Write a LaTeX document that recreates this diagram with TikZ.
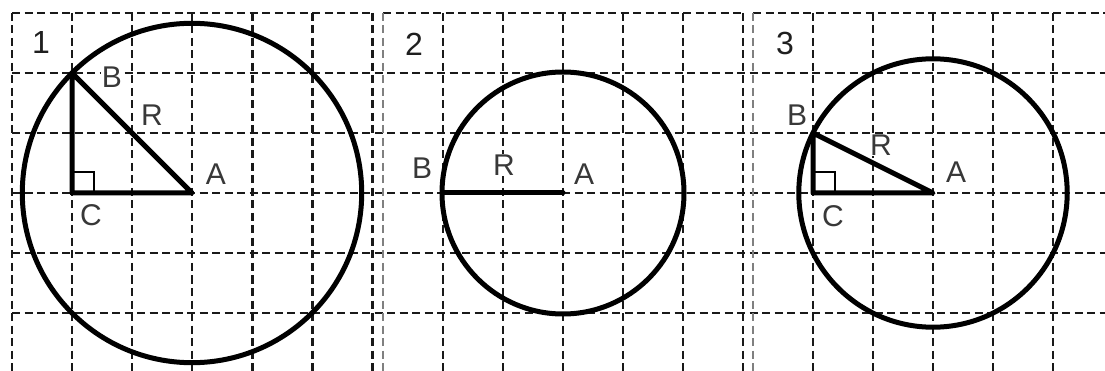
\documentclass[tikz,border=0pt]{standalone}
\usepackage{fontspec}
\setmainfont{Liberation Sans}
\begin{document}
\begin{tikzpicture}[x=1pt,y=-1pt,
  grid/.style={draw=black!90,line width=2.3pt,dash pattern=on 8pt off 4.5pt},
  gridlight/.style={draw=black!50,line width=2.3pt,dash pattern=on 8pt off 4.5pt},
  thick line/.style={draw=black,line width=5pt,line cap=round,line join=round},
  ra/.style={draw=black,line width=2pt},
  lbl/.style={inner sep=1pt,fill=white,text=black!78,font=\fontsize{30}{32}\selectfont},
  num/.style={inner sep=0pt,text=black!88,font=\fontsize{32}{34}\selectfont}]
\useasboundingbox (0,0) rectangle (1105,371);
\fill[white] (0,0) rectangle (1105,371);
% horizontal grid lines
\draw[grid] (12,13) -- (373,13);
\draw[grid] (383,13) -- (743,13);
\draw[grid] (753,13) -- (1105,13);
\foreach \y in {73,133,193,253,313}
  \draw[grid] (12,\y) -- (1105,\y);
% vertical grid lines
\foreach \i in {0,...,6}
  \draw[grid] ({12+60.1*\i},13) -- ({12+60.1*\i},371);
\draw[gridlight] (383,13) -- (383,371);
\foreach \i in {1,...,6}
  \draw[grid] ({383+60*\i},13) -- ({383+60*\i},371);
\draw[gridlight] (753,13) -- (753,371);
\foreach \i in {1,...,5}
  \draw[grid] ({753+60*\i},13) -- ({753+60*\i},371);
% panel 1
\coordinate (A1) at (192,193);
\coordinate (B1) at (72,73);
\coordinate (C1) at (72,193);
\draw[thick line] (A1) circle[radius=169.7];
\draw[ra] (C1) ++(0,-21) -- ++(22,0) -- ++(0,21);
\draw[thick line] (B1) -- (C1) -- (A1) -- cycle;
\node[num] (n1) at (41,42) {1};
\node[lbl] (lB1) at (112,77) {B};
\node[lbl] (lR1) at (152,115) {R};
\node[lbl] (lA1) at (216,174) {A};
\node[lbl] (lC1) at (91,215) {C};
% panel 2
\coordinate (A2) at (563,193);
\coordinate (B2) at (443,193);
\draw[thick line] (A2) circle[radius=121];
\draw[thick line] (B2) -- (A2);
\node[num] (n2) at (414,44) {2};
\node[lbl] (lB2) at (422,168) {B};
\node[lbl] (lR2) at (504,165) {R};
\node[lbl] (lA2) at (584,174) {A};
% panel 3
\coordinate (A3) at (933,193);
\coordinate (B3) at (813,133);
\coordinate (C3) at (813,193);
\draw[thick line] (A3) circle[radius=134.2];
\draw[ra] (C3) ++(0,-21) -- ++(22,0) -- ++(0,21);
\draw[thick line] (B3) -- (C3) -- (A3) -- cycle;
\node[num] (n3) at (785,43) {3};
\node[lbl] (lB3) at (797,115) {B};
\node[lbl] (lR3) at (881,145) {R};
\node[lbl] (lA3) at (956,172) {A};
\node[lbl] (lC3) at (833,216) {C};
\end{tikzpicture}
\end{document}
